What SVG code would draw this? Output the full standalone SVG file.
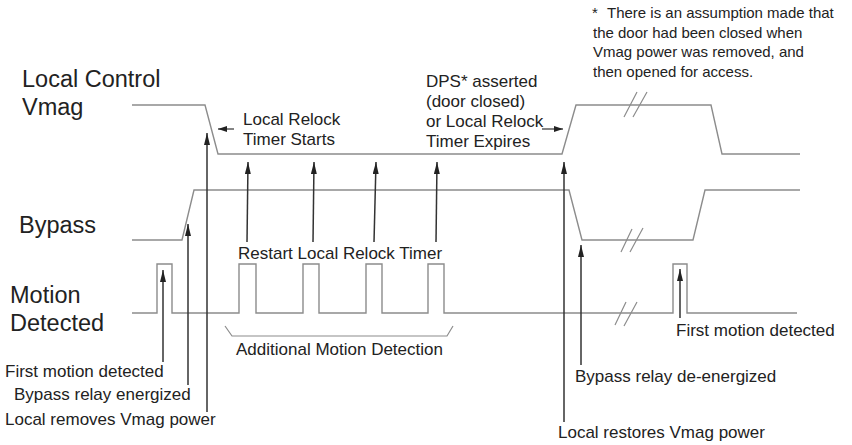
<svg xmlns="http://www.w3.org/2000/svg" width="852" height="445" viewBox="0 0 852 445">
<style>
.wave{fill:none;stroke:#8c8c8c;stroke-width:1.4}
.brk{fill:none;stroke:#8c8c8c;stroke-width:1.2}
.arr{fill:none;stroke:#333;stroke-width:1.5;marker-end:url(#ah)}
.arrs{fill:none;stroke:#333;stroke-width:1.2;marker-end:url(#ahs)}
.big{font-family:"Liberation Sans",Arial,sans-serif;font-size:23.5px;fill:#222}
.lbl{font-family:"Liberation Sans",Arial,sans-serif;font-size:17px;fill:#222}
.note{font-family:"Liberation Sans",Arial,sans-serif;font-size:15px;fill:#222}
</style>
<defs>
<marker id="ah" viewBox="0 0 12 6" refX="12" refY="3" markerWidth="12" markerHeight="6" markerUnits="userSpaceOnUse" orient="auto">
<path d="M0,0 L12,3 L0,6 Z" fill="#222"/>
</marker>
<marker id="ahs" viewBox="0 0 9 6" refX="9" refY="3" markerWidth="9" markerHeight="6" markerUnits="userSpaceOnUse" orient="auto">
<path d="M0,0 L9,3 L0,6 Z" fill="#222"/>
</marker>
</defs>
<rect width="852" height="445" fill="#fff"/>
<g id="vmag">
<text class="big" x="22" y="87">Local Control</text>
<text class="big" x="22" y="115">Vmag</text>
<path class="wave" d="M132,105 H205 L218,154 H562 L576,105 H711 L722,154 H800"/>
<path class="brk" d="M624,117 L637,92 M633,117 L647,92"/>
</g>
<g id="bypass">
<text class="big" x="19" y="233">Bypass</text>
<path class="wave" d="M132,240 H182 L194,190 H569 L582,240 H693 L705,190 H800"/>
<path class="brk" d="M621,252 L632,229 M630,252 L643,228"/>
</g>
<g id="motion">
<text class="big" x="10" y="303">Motion</text>
<text class="big" x="10" y="331">Detected</text>
<path class="wave" d="M132,313 H157 V264 H172 V313 H239 V264 H256 V313 H303 V264 H319 V313 H366 V264 H382 V313 H428 V264 H444 V313 H673 V264 H687 V313 H797"/>
<path class="brk" d="M615,325 L626,302 M624,326 L637,302"/>
<path class="brk" d="M225,326 L232,336 H447 L453,326"/>
</g>
<g id="connectors">
<path class="arr" d="M163,362 V270"/>
<path class="arr" d="M188,385 V224"/>
<path class="arr" d="M207,412 V133"/>
<path class="arr" d="M247,242 L248,162"/>
<path class="arr" d="M313,242 L314,162"/>
<path class="arr" d="M374,242 L376,162"/>
<path class="arr" d="M436,242 L437,162"/>
<path class="arr" d="M564,422 V162"/>
<path class="arr" d="M581,365 V245"/>
<path class="arr" d="M680,318 V269"/>
<path class="arrs" d="M234,129 H218"/>
<path class="arrs" d="M542,129 H563"/>
</g>
<g id="labels">
<text class="lbl" x="243" y="125">Local Relock</text>
<text class="lbl" x="243" y="145">Timer Starts</text>
<text class="lbl" x="426" y="87">DPS* asserted</text>
<text class="lbl" x="426" y="107">(door closed)</text>
<text class="lbl" x="426" y="127">or Local Relock</text>
<text class="lbl" x="426" y="147">Timer Expires</text>
<text class="lbl" x="238" y="259">Restart Local Relock Timer</text>
<text class="lbl" x="236" y="355">Additional Motion Detection</text>
<text class="lbl" x="5" y="377">First motion detected</text>
<text class="lbl" x="14" y="400">Bypass relay energized</text>
<text class="lbl" x="5" y="425">Local removes Vmag power</text>
<text class="lbl" x="575" y="382">Bypass relay de-energized</text>
<text class="lbl" x="676" y="336">First motion detected</text>
<text class="lbl" x="558" y="438">Local restores Vmag power</text>
</g>
<g id="footnote">
<text class="note" x="592" y="18">*</text>
<text class="note" x="607" y="18">There is an assumption made that</text>
<text class="note" x="593" y="38">the door had been closed when</text>
<text class="note" x="593" y="57">Vmag power was removed, and</text>
<text class="note" x="593" y="77">then opened for access.</text>
</g>
</svg>
